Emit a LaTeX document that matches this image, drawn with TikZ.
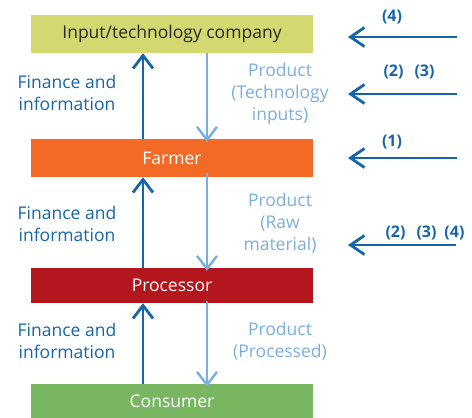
\documentclass[tikz,border=0pt]{standalone}
\usepackage{fontspec}
\setmainfont{Open Sans}
\usetikzlibrary{arrows.meta}
\definecolor{topc}{HTML}{D4D870}
\definecolor{farmc}{HTML}{F26A25}
\definecolor{procc}{HTML}{B3171D}
\definecolor{consc}{HTML}{79B661}
\definecolor{dblue}{HTML}{1465A9}
\definecolor{lblue}{HTML}{7AAEDF}
\tikzset{
  box/.style={rectangle, minimum width=282pt, inner sep=0pt, font=\fontsize{17.5}{20}\selectfont, text=white},
  uparr/.style={draw=dblue, line width=2.8pt, -{Straight Barb[length=13pt,width=20pt,line width=2.8pt]}},
  dnarr/.style={draw=lblue, line width=2.4pt, -{Straight Barb[length=13pt,width=20pt,line width=2.4pt]}},
  sidearr/.style={draw=dblue, line width=2.8pt, -{Straight Barb[length=14pt,width=19pt,line width=2.8pt]}},
  fin/.style={text=dblue, align=center, font=\fontsize{17.5}{22}\selectfont},
  prod/.style={text=lblue, align=center, font=\fontsize{17.5}{22}\selectfont},
  num/.style={text=dblue, font=\fontsize{16}{18}\selectfont\bfseries},
}
\begin{document}
\begin{tikzpicture}[x=1pt,y=-1pt]
\useasboundingbox (0,0) rectangle (472,418);
\node[box, fill=topc, minimum height=38pt, text=black!85] (top) at (172,34) {Input/technology company};
\node[box, fill=farmc, minimum height=38pt] (farm) at (172,158) {Farmer};
\node[box, fill=procc, minimum height=35pt] (proc) at (172,285.5) {Processor};
\node[box, fill=consc, minimum height=34pt] (cons) at (172,401) {Consumer};

\draw[uparr] ([xshift=-29pt]farm.north) -- ([xshift=-29pt]top.south);
\draw[dnarr] ([xshift=35pt]top.south) -- ([xshift=35pt,yshift=-3pt]farm.north);
\draw[uparr] ([xshift=-29pt]proc.north) -- ([xshift=-29pt]farm.south);
\draw[dnarr] ([xshift=35pt,yshift=4pt]farm.south) -- ([xshift=35pt,yshift=-3pt]proc.north);
\draw[uparr] ([xshift=-29pt]cons.north) -- ([xshift=-29pt]proc.south);
\draw[dnarr] ([xshift=35pt,yshift=2pt]proc.south) -- ([xshift=35pt,yshift=-3pt]cons.north);

\node[fin] (f1) at (67,93) {Finance and\\information};
\node[fin] (f2) at (67,224) {Finance and\\information};
\node[fin] (f3) at (67,341) {Finance and\\information};

\node[prod] (p1) at (280,94) {Product\\(Technology\\inputs)};
\node[prod] (p2) at (280,223) {Product\\(Raw\\material)};
\node[prod] (p3) at (280,341) {Product\\(Processed)};

\coordinate (a1s) at (457,37); \coordinate (a1e) at (348,37);
\coordinate (a2s) at (457,94); \coordinate (a2e) at (348,94);
\coordinate (a3s) at (457,158); \coordinate (a3e) at (348,158);
\coordinate (a4s) at (456,245); \coordinate (a4e) at (348,245);
\draw[sidearr] (a1s) -- (a1e);
\draw[sidearr] (a2s) -- (a2e);
\draw[sidearr] (a3s) -- (a3e);
\draw[sidearr] (a4s) -- (a4e);

\node[num] (n1) at (392,17) {(4)};
\node[num] (n2) at (409,72) {(2)\hspace{11pt}(3)};
\node[num] (n3) at (392,142) {(1)};
\node[num] (n4) at (425,233) {(2)\hspace{11pt}(3)\hspace{8pt}(4)};
\end{tikzpicture}
\end{document}
